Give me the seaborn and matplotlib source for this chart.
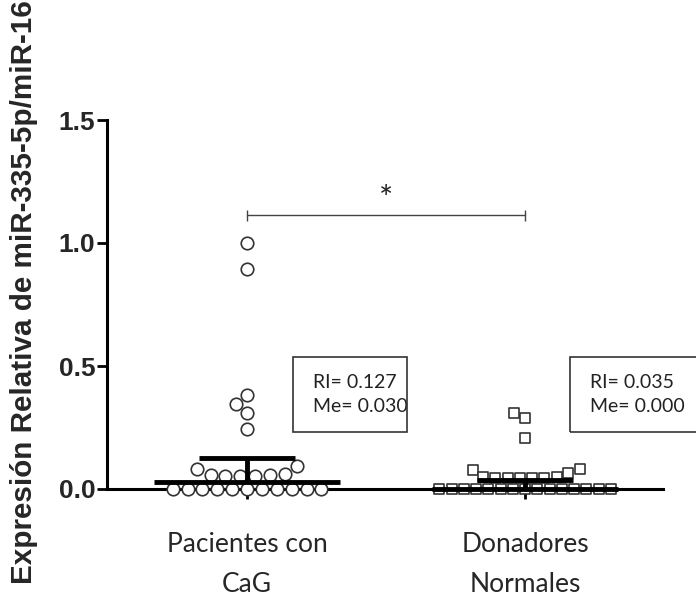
import numpy as np
import pandas as pd
import matplotlib
matplotlib.use("Agg")
import matplotlib.pyplot as plt
import seaborn as sns
from matplotlib.patches import Rectangle

# ---------------- data ----------------
categories = ["Pacientes con\nCaG", "Donadores\nNormales"]
pacientes = [1.000, 0.894, 0.382, 0.345, 0.309, 0.244, 0.093, 0.080,
             0.062, 0.058, 0.055, 0.053, 0.052, 0.051,
             0.0, 0.0, 0.0, 0.0, 0.0, 0.0, 0.0, 0.0, 0.0, 0.0, 0.0]
donadores = [0.309, 0.290, 0.207, 0.080, 0.078, 0.065, 0.050, 0.048,
             0.046, 0.045, 0.044, 0.043, 0.043,
             0.0, 0.0, 0.0, 0.0, 0.0, 0.0, 0.0, 0.0, 0.0,
             0.0, 0.0, 0.0, 0.0, 0.0, 0.0]
medians = [0.030, 0.000]
q3 = [0.127, 0.035]
stats_text = ["RI= 0.127\nMe= 0.030", "RI= 0.035\nMe= 0.000"]
y_ticks = [0.0, 0.5, 1.0, 1.5]
y_ticklabels = ["0.0", "0.5", "1.0", "1.5"]
ylabel = "Expresión Relativa de miR-335-5p/miR-16"
signif_label = "*"

# ---------------- style ----------------
sns.set_theme(style="ticks")
plt.rcParams['font.family'] = ['Liberation Sans', 'DejaVu Sans']

df = pd.DataFrame({
    "grupo": [categories[0]] * len(pacientes) + [categories[1]] * len(donadores),
    "valor": pacientes + donadores,
})

fig = plt.figure(figsize=(6.96, 6.03), dpi=100)
ax = fig.add_axes([107 / 696, 1 - 489 / 603, 556 / 696, 369 / 603])

sns.swarmplot(data=df[df.grupo == categories[0]], x="grupo", y="valor",
              order=categories, marker="o", size=9, color="white",
              edgecolor="#333333", linewidth=1.2, ax=ax, clip_on=False,
              warn_thresh=1, zorder=3)
sns.swarmplot(data=df[df.grupo == categories[1]], x="grupo", y="valor",
              order=categories, marker="s", size=7.2, color="white",
              edgecolor="#333333", linewidth=1.2, ax=ax, clip_on=False,
              warn_thresh=1, zorder=3)

# median and interquartile bars
for i, (m, q) in enumerate(zip(medians, q3)):
    ax.hlines(m, i - 0.335, i + 0.335, color="black", lw=3.5, zorder=5, clip_on=False)
    ax.hlines(q, i - 0.173, i + 0.173, color="black", lw=3.5, zorder=5)
    ax.vlines(i, m, q, color="black", lw=3.5, zorder=5)

# stats boxes
box_pos = [(0.165, 0.232, 0.411, 0.305), (1.162, 0.232, 0.55, 0.305)]
for (x0, y0, w, h), txt in zip(box_pos, stats_text):
    ax.add_patch(Rectangle((x0, y0), w, h, fill=False, edgecolor="#333333",
                           lw=1.2, clip_on=False, zorder=4))
    ax.text(x0 + 0.072, y0 + h / 2, txt, ha="left", va="center",
            fontsize=14, family=["Lato", "DejaVu Sans"], linespacing=1.55,
            color="#222222")

# significance bracket
ax.plot([0, 1], [1.114, 1.114], color="#444444", lw=1.0)
ax.vlines([0, 1], 1.09, 1.135, color="#444444", lw=1.0)
ax.text(0.5, 1.175, signif_label, ha="center", va="center", fontsize=24,
        family=["Lato", "DejaVu Sans"], color="#222222")

# axes
ax.set_xlim(-0.504, 1.496)
ax.set_ylim(0, 1.5)
ax.set_yticks(y_ticks)
ax.set_yticklabels(y_ticklabels, fontsize=19, fontweight="bold")
ax.set_xticks([0, 1])
ax.set_xticklabels(categories, fontsize=19, family=["Lato", "DejaVu Sans"],
                   linespacing=1.75)
ax.tick_params(axis="y", length=7, width=2, pad=1.5, color="black")
ax.tick_params(axis="x", length=7, width=2, pad=24, color="black")
for s in ["left", "bottom"]:
    ax.spines[s].set_linewidth(2.2)
    ax.spines[s].set_color("black")
sns.despine(ax=ax)
ax.set_xlabel("")
ax.set_ylabel(ylabel, fontsize=21.3, fontweight="bold")
ax.yaxis.set_label_coords(-0.124, 0.535)

fig.savefig("out.png", dpi=100)
